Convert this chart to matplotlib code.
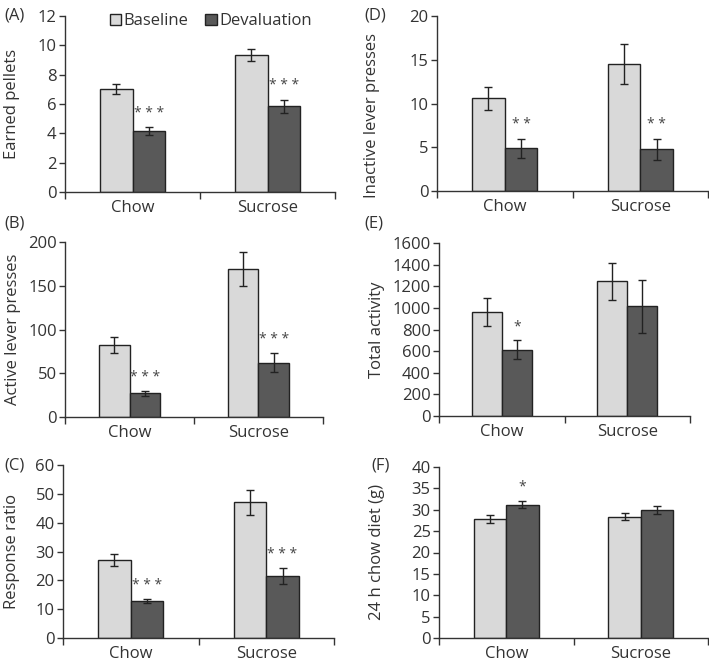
import numpy as np
import matplotlib.pyplot as plt

plt.rcParams['font.family'] = ['Open Sans', 'DejaVu Sans']
plt.rcParams['font.size'] = 12
plt.rcParams['text.color'] = '#333333'
plt.rcParams['axes.labelcolor'] = '#333333'
plt.rcParams['xtick.color'] = '#333333'
plt.rcParams['ytick.color'] = '#333333'

groups = ['Chow', 'Sucrose']
series_names = ['Baseline', 'Devaluation']
colors = ['#d9d9d9', '#595959']

# panel A - earned pellets
pellets_base = [7.0, 9.35]
pellets_base_err = [0.35, 0.4]
pellets_dev = [4.15, 5.85]
pellets_dev_err = [0.25, 0.45]

# panel B - active lever presses
active_base = [82, 169]
active_base_err = [9, 19]
active_dev = [27, 62]
active_dev_err = [3, 11]

# panel C - response ratio
ratio_base = [27, 47]
ratio_base_err = [2.0, 4.5]
ratio_dev = [12.8, 21.5]
ratio_dev_err = [0.8, 2.7]

# panel D - inactive lever presses
inactive_base = [10.6, 14.5]
inactive_base_err = [1.3, 2.3]
inactive_dev = [4.9, 4.8]
inactive_dev_err = [1.1, 1.2]

# panel E - total activity
activity_base = [965, 1245]
activity_base_err = [130, 170]
activity_dev = [615, 1015]
activity_dev_err = [85, 245]

# panel F - 24 h chow diet
diet_base = [27.8, 28.4]
diet_base_err = [1.0, 0.9]
diet_dev = [31.2, 29.9]
diet_dev_err = [0.9, 1.0]

panels = [
    # letter, ylabel, base, base_err, dev, dev_err, ymax, ystep, stars,
    # axes rect px (left, right, top, bottom), ylabel pos (x px baseline side, y axes frac), letter pos px
    ('A', 'Earned pellets', pellets_base, pellets_base_err, pellets_dev, pellets_dev_err,
     12, 2, ['***', '***'], (65, 335, 16, 192), (20, 0.5), (4, 15)),
    ('B', 'Active lever presses', active_base, active_base_err, active_dev, active_dev_err,
     200, 50, ['***', '***'], (65, 323, 242, 417), (21, 0.5), (4, 224)),
    ('C', 'Response ratio', ratio_base, ratio_base_err, ratio_dev, ratio_dev_err,
     60, 10, ['***', '***'], (63, 334, 465, 638), (20, 0.5), (4, 465)),
    ('D', 'Inactive lever presses', inactive_base, inactive_base_err, inactive_dev, inactive_dev_err,
     20, 5, ['**', '**'], (437, 708, 16, 191), (380, 0.43), (364, 15)),
    ('E', 'Total activity', activity_base, activity_base_err, activity_dev, activity_dev_err,
     1600, 200, ['*', ''], (439, 690, 243, 416), (385, 0.5), (364, 224)),
    ('F', '24 h chow diet (g)', diet_base, diet_base_err, diet_dev, diet_dev_err,
     40, 5, ['*', ''], (439, 708, 467, 638), (385, 0.5), (371, 465)),
]

W, H = 709, 666
fig = plt.figure(figsize=(W / 100, H / 100), dpi=100)

width = 0.24
x = np.arange(len(groups)) + 0.5

for letter, ylabel, base, base_err, dev, dev_err, ymax, ystep, stars, rect, lab_pos, let_pos in panels:
    l, r, t, b = rect
    ax = fig.add_axes([l / W, 1 - b / H, (r - l) / W, (b - t) / H])
    err_kw = dict(ecolor='#222222', elinewidth=1, capsize=3, capthick=1)
    ax.bar(x - width / 2, base, width, yerr=base_err, color=colors[0],
           edgecolor='#222222', linewidth=1, error_kw=err_kw, label=series_names[0])
    ax.bar(x + width / 2, dev, width, yerr=dev_err, color=colors[1],
           edgecolor='#222222', linewidth=1, error_kw=err_kw, label=series_names[1])
    for xi, v, e, s in zip(x, dev, dev_err, stars):
        if s:
            ax.text(xi + width / 2, v + e + ymax * 0.035, ' '.join(s), ha='center', va='bottom',
                    fontsize=10, color='#444444')

    ax.set_xlim(0, 2)
    ax.set_ylim(0, ymax)
    ax.set_yticks(np.arange(0, ymax + ystep / 2, ystep))
    ax.set_xticks([0, 1, 2])
    ax.set_xticklabels([])
    ax.set_xticks(x, minor=True)
    ax.set_xticklabels(groups, minor=True)
    ax.tick_params(axis='x', which='minor', length=0, pad=6)
    ax.tick_params(axis='x', which='major', length=5, width=1, direction='out')
    ax.tick_params(axis='y', length=4, width=1, direction='out', pad=2)
    ax.spines['top'].set_visible(False)
    ax.spines['right'].set_visible(False)
    for sp in ('left', 'bottom'):
        ax.spines[sp].set_color('#333333')
        ax.spines[sp].set_linewidth(1)
    ax.set_ylabel(ylabel)
    ax.yaxis.set_label_coords((lab_pos[0] - l) / (r - l), lab_pos[1])
    fig.text(let_pos[0] / W, 1 - let_pos[1] / H, '(%s)' % letter, ha='left', va='center')

    if letter == 'A':
        ax.legend(loc='upper center', bbox_to_anchor=(0.54, 1.10), ncol=2, frameon=False,
                  handlelength=0.7, handleheight=0.7, handletextpad=0.15, columnspacing=1.0)

fig.savefig('out.png', dpi=100)
